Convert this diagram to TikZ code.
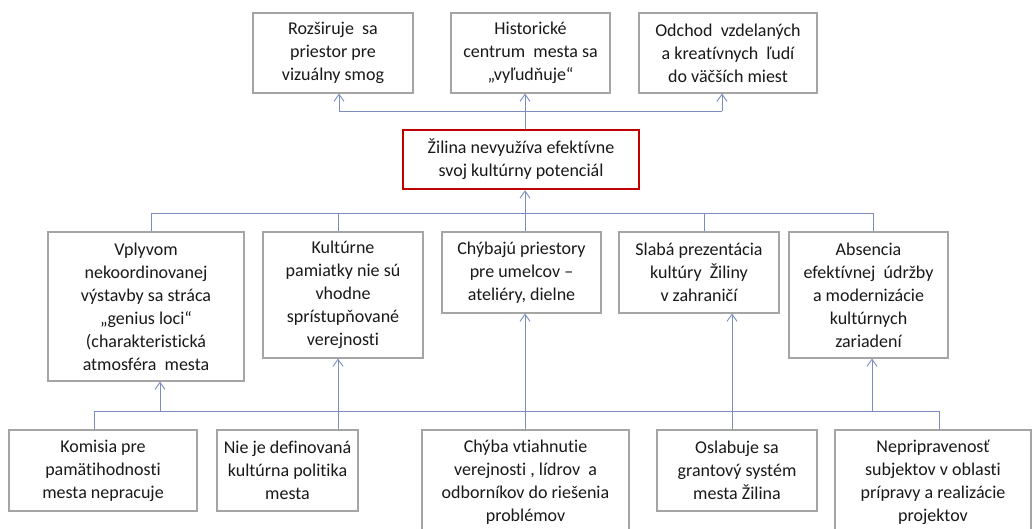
\documentclass[tikz,border=0pt]{standalone}
\usepackage{fontspec}
\setmainfont{Carlito}[Ligatures=NoCommon]
\usetikzlibrary{arrows.meta}
\definecolor{linec}{RGB}{125,140,192}
\definecolor{boxgray}{RGB}{165,165,165}
\definecolor{redc}{RGB}{192,0,0}
\newcommand\bxfont{\fontsize{18}{23}\selectfont}
\tikzset{
  box/.style={draw=boxgray, line width=1.1pt, fill=white, inner sep=0pt, align=center, font=\bxfont, text=black!90},
  redbox/.style={box, draw=redc, line width=2.6pt},
  ln/.style={draw=linec, line width=1pt},
  arr/.style={ln, -{Straight Barb[length=7pt,width=10pt,line width=0.9pt]}},
}
\begin{document}
\begin{tikzpicture}[x=1pt,y=-1pt]
\clip (0,0) rectangle (1033,528);
\fill[white] (0,0) rectangle (1033,528);
% top row
\node[box, minimum width=160pt, minimum height=80pt] (b1) at (333,53) {Rozširuje\ \ sa\\priestor pre\\vizuálny smog};
\node[box, minimum width=159pt, minimum height=80pt] (b2) at (530.5,53) {Historické\\centrum\ \ mesta sa\\„vyľudňuje“};
\node[box, minimum width=178pt, minimum height=80pt] (b3) at (728,53) {Odchod\ \ vzdelaných\\a kreatívnych\ \ ľudí\\do väčších miest};
% center
\node[redbox, minimum width=236pt, minimum height=59pt] (c) at (521,159.5) {Žilina nevyužíva efektívne\\svoj kultúrny potenciál};
% middle row
\node[box, minimum width=196pt, minimum height=149pt] (m1) at (146,306.5) {Vplyvom\\nekoordinovanej\\výstavby sa stráca\\„genius loci“\\(charakteristická\\atmosféra\ \ mesta};
\node[box, minimum width=160pt, minimum height=126pt] (m2) at (343,295) {Kultúrne\\pamiatky nie sú\\vhodne\\sprístupňované\\verejnosti};
\node[box, minimum width=159pt, minimum height=81pt] (m3) at (521.5,272.5) {Chýbajú priestory\\pre umelcov –\\ateliéry, dielne};
\node[box, minimum width=160pt, minimum height=81pt] (m4) at (699,272.5) {Slabá prezentácia\\kultúry\ \ Žiliny\\v zahraničí};
\node[box, minimum width=159pt, minimum height=126pt] (m5) at (868.5,295) {Absencia\\efektívnej\ \ údržby\\a modernizácie\\kultúrnych\\zariadení};
% bottom row
\node[box, minimum width=188pt, minimum height=81pt] (n1) at (103,470.5) {Komisia pre\\pamätihodnosti\\mesta nepracuje};
\node[box, minimum width=141pt, minimum height=81pt] (n2) at (287.5,470.5) {Nie je definovaná\\kultúrna politika\\mesta};
\node[box, minimum width=207pt, minimum height=104pt] (n3) at (525.5,482) {Chýba vtiahnutie\\verejnosti\ , lídrov\ \ a\\odborníkov do riešenia\\problémov};
\node[box, minimum width=160pt, minimum height=81pt] (n4) at (737,470.5) {Oslabuje sa\\grantový systém\\mesta Žilina};
\node[box, minimum width=196pt, minimum height=104pt] (n5) at (933,482) {Nepripravenosť\\subjektov v oblasti\\prípravy a realizácie\\projektov};
% top connectors
\coordinate (tL) at (339,111);
\coordinate (tM) at (525,111);
\coordinate (tR) at (722,111);
\draw[ln] (tL) -- (tR);
\draw[ln] (c.north -| tM) -- (tM);
\draw[arr] (tL) -- (tL |- b1.south);
\draw[arr] (tM) -- (tM |- b2.south);
\draw[arr] (tR) -- (tR |- b3.south);
% middle connectors
\coordinate (mA) at (151,213);
\coordinate (mB) at (338,213);
\coordinate (mC) at (525,213);
\coordinate (mD) at (704,213);
\coordinate (mE) at (873,213);
\draw[ln] (mA) -- (mE);
\draw[arr] (mC) -- (mC |- c.south);
\draw[ln] (mA) -- (mA |- m1.north);
\draw[ln] (mB) -- (mB |- m2.north);
\draw[ln] (mC) -- (mC |- m3.north);
\draw[ln] (mD) -- (mD |- m4.north);
\draw[ln] (mE) -- (mE |- m5.north);
% bottom connectors
\coordinate (bA) at (94,411);
\coordinate (bB) at (160,411);
\coordinate (bC) at (338,411);
\coordinate (bD) at (525,411);
\coordinate (bE) at (732,411);
\coordinate (bF) at (872,411);
\coordinate (bG) at (939,411);
\draw[ln] (bA) -- (bG);
\draw[ln] (bA) -- (bA |- n1.north);
\draw[arr] (bB) -- (bB |- m1.south);
\draw[arr] (bC |- n2.north) -- (bC |- m2.south);
\draw[arr] (bD |- n3.north) -- (bD |- m3.south);
\draw[arr] (bE |- n4.north) -- (bE |- m4.south);
\draw[arr] (bF) -- (bF |- m5.south);
\draw[ln] (bG) -- (bG |- n5.north);
\end{tikzpicture}
\end{document}
